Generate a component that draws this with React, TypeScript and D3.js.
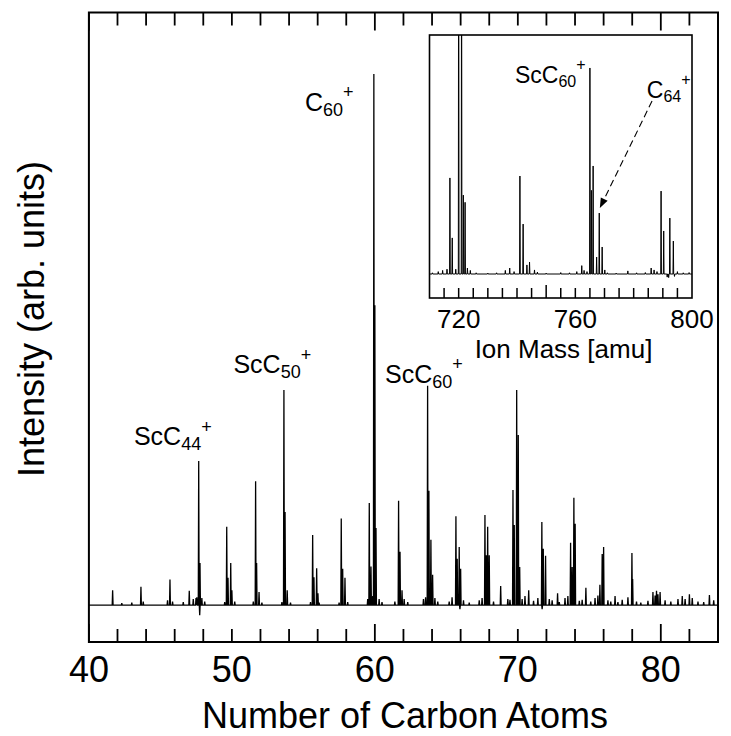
import React from "react";
import * as d3 from "d3";

// ---------- data ----------
// Main spectrum: peak positions in "number of carbon atoms" (mass/12) and intensities
const mainPeakN = [
  41.66, 43.64, 45.67, 47.02, 47.49, 47.68, 47.77, 49.64, 49.73, 49.92, 50.0,
  51.66, 51.73, 51.9, 53.64, 53.72, 53.87, 55.65, 55.74, 55.93, 56.02, 57.65,
  57.75, 57.91, 59.61, 59.73, 59.93, 60.0, 60.08, 61.66, 61.76, 61.9, 63.69,
  63.78, 63.92, 64.04, 65.67, 65.76, 65.9, 66.0, 67.7, 67.79, 67.89, 68.0, 68.8,
  69.66, 69.75, 69.92, 70.03, 70.13, 70.76, 71.68, 71.78, 71.94, 72.78, 73.69,
  73.8, 73.92, 74.01, 74.76, 75.74, 75.9, 76.0, 76.8, 77.7, 77.98, 78.03,
];
const mainPeakI = [
  2.5, 3.1, 4.3, 2.4, 1.2, 24.3, 7.1, 13.2, 4.6, 7.1, 2.5,
  20.9, 7.1, 2.2, 36.3, 15.7, 2.5, 11.8, 4.7, 6.2, 2.0, 14.6,
  6.1, 4.6, 17.2, 6.5, 89.6, 50.6, 13.0, 17.6, 9.0, 2.5, 37.0,
  19.3, 11.0, 5.1, 15.0, 7.8, 9.8, 6.1, 15.2, 8.4, 13.2, 8.4, 3.2,
  19.4, 13.5, 36.3, 28.7, 6.4, 2.5, 14.0, 9.5, 8.3, 2.0, 10.5,
  6.4, 18.1, 13.7, 2.9, 3.4, 8.6, 9.8, 1.5, 1.3, 8.8, 4.4,
];
// small baseline features of the main spectrum
const mainNoiseN = [
  42.3, 43.0, 43.8, 45.5, 45.85, 46.6, 47.3, 47.55, 47.75, 47.9, 48.1, 49.5, 50.2,
  51.5, 52.1, 53.5, 54.1, 55.5, 56.1, 57.5, 58.1, 59.5, 59.85, 60.3, 60.5, 61.4,
  62.05, 62.3, 63.4, 63.55, 64.2, 64.4, 65.2, 65.4, 65.95, 66.2, 66.6, 67.3, 67.5,
  68.3, 69.3, 69.45, 70.3, 70.5, 71.1, 71.4, 71.7, 72.2, 72.4, 72.9, 73.3, 73.5,
  74.3, 74.5, 75.1, 75.4, 75.6, 76.3, 76.5, 77.0, 77.3, 78.3, 78.6, 79.1, 79.45,
  79.6, 79.7, 79.8, 79.95, 80.3, 80.7, 81.2, 81.5, 81.7, 82.0, 82.2, 82.6, 83.0,
  83.4, 83.7,
];
const mainNoiseI = [
  0.3, 0.4, 0.6, 0.8, 0.6, 0.5, 1.0, 1.3, -1.7, 1.2, 0.6, 0.5, 0.6,
  0.6, 0.4, 0.5, 0.4, 0.5, 0.4, 0.4, 0.5, 1.0, 1.5, 1.0, 0.5, 0.6,
  1.0, 0.5, 1.0, 1.3, 1.2, 0.6, 0.6, 1.3, -0.7, 0.8, 0.4, 0.8, 1.2,
  0.6, 1.0, 0.9, 1.0, 1.5, 0.7, 1.2, -0.7, 1.0, 0.8, 0.5, 1.2, 1.5,
  0.7, 0.9, 0.6, 1.2, 1.6, 0.8, 0.6, 0.5, 0.9, 0.6, 0.4, 0.7, 2.2,
  1.6, 2.4, 1.8, 2.2, 0.8, 0.6, 1.0, 1.5, 1.0, 1.8, 1.2, 0.6, 0.5,
  1.7, 0.8,
];

// Inset spectrum: ion mass (amu) and intensity
const insetPeakM = [
  717.0, 717.8, 720.0, 721.0, 721.6, 722.2, 741.0, 742.1, 743.4, 744.3,
  765.0, 765.5, 766.1, 767.3, 768.2, 769.2, 789.4, 790.3, 792.4, 793.6,
];
const insetPeakI = [
  40.2, 15.1, 180, 160, 33, 30, 41, 20.9, 3.8, 5.0,
  86.2, 35, 45.2, 7.1, 25.5, 11.3, 34.7, 18, 23.4, 13.8,
];
const insetNoiseM = [
  711, 713, 714.5, 716, 719, 723, 724, 726, 730, 733, 736, 737.5, 739, 746, 747,
  750, 755, 758, 760.5, 762.2, 763, 764, 770.1, 771, 774, 778, 781, 784, 786,
  787, 788, 791.5, 792, 794, 795, 797, 799,
];
const insetNoiseI = [
  0.5, 1, 1.5, 2, 2, 2.5, 1.5, 0.5, 0.4, 0.5, 1.5, 2.5, 1, 1.7, 0.8,
  0.4, 0.6, 0.5, 1, 3.5, 1.5, 1, 1.7, 0.5, 0.4, 1.3, 0.5, 0.6, 2.5,
  1.7, 1.0, -1.3, -1.5, -1.0, 1, 0.5, 0.6,
];

// axes
const mainTickLabels = [40, 50, 60, 70, 80];
const mainMajorTicks = [40, 60, 80];
const mainMinorTicks = d3.range(42, 84, 2).filter((v) => !mainMajorTicks.includes(v));
const insetTickLabels = [720, 760, 800];
const insetMajorTicks = [750];
const insetMinorTicks = d3.range(715, 800, 5).filter((v) => !insetMajorTicks.includes(v));

// annotations (data coordinates)
const mainLabels = [
  { main: "ScC", sub: "44", n: 43.15, v: 27.0 },
  { main: "ScC", sub: "50", n: 50.11, v: 39.1 },
  { main: "C", sub: "60", n: 55.11, v: 83.4 },
  { main: "ScC", sub: "60", n: 60.71, v: 37.5 },
];
const insetLabels = [
  { main: "ScC", sub: "60", m: 739.3, v: 79.8 },
  { main: "C", sub: "64", m: 784.5, v: 73.6 },
];
const insetArrow = { fromM: 786.3, fromV: 72.4, toM: 768.4, toV: 27.6 };

// ---------- layout ----------
const W = 731;
const H = 736;
const FONT = "'Liberation Sans', Arial, Helvetica, sans-serif";
const P = { left: 88.9, right: 718, top: 12.5, bottom: 642 };
const I = { left: 429.5, right: 692, top: 35, bottom: 298 };

const xMain = d3.scaleLinear().domain([40, 84]).range([P.left, P.right]);
const yMain = d3.scaleLinear().domain([-6.24, 100]).range([P.bottom, P.top]);
const xIn = d3.scaleLinear().domain([710, 800]).range([I.left, I.right]);
const yIn = d3.scaleLinear().domain([-10.04, 100]).range([I.bottom, I.top]);

function buildSpectrum(
  pos: number[][],
  halfWidth: number,
  lo: number,
  hi: number
): [number, number][] {
  const all: [number, number][] = [];
  pos.forEach(([p, v]) => all.push([p, v]));
  all.sort((a, b) => a[0] - b[0]);
  const pts: [number, number][] = [[lo, 0]];
  all.forEach(([p, v]) => {
    pts.push([p - halfWidth, 0], [p, v], [p + halfWidth, 0]);
  });
  pts.push([hi, 0]);
  return pts;
}

const mainPts = buildSpectrum(
  [
    ...mainPeakN.map((n, i) => [n, mainPeakI[i]]),
    ...mainNoiseN.map((n, i) => [n, mainNoiseI[i]]),
  ],
  0.03,
  40,
  84
);
const insetPts = buildSpectrum(
  [
    ...insetPeakM.map((m, i) => [m, insetPeakI[i]]),
    ...insetNoiseM.map((m, i) => [m, insetNoiseI[i]]),
  ],
  0.12,
  710,
  800
);

const mainLine = d3
  .line<[number, number]>()
  .x((d) => xMain(d[0]))
  .y((d) => yMain(d[1]));
const insetLine = d3
  .line<[number, number]>()
  .x((d) => xIn(d[0]))
  .y((d) => yIn(d[1]));

function Formula(props: {
  x: number;
  y: number;
  main: string;
  sub: string;
  fs: number;
  sfs: number;
  subDy: number;
  supDy: number;
}) {
  const { x, y, main, sub, fs, sfs, subDy, supDy } = props;
  return (
    <text x={x} y={y} fontSize={fs} fontFamily={FONT} fill="#000">
      {main}
      <tspan fontSize={sfs} dy={subDy}>
        {sub}
      </tspan>
      <tspan fontSize={sfs} dy={supDy}>
        +
      </tspan>
    </text>
  );
}

export default function App() {
  // arrow geometry
  const ax0 = xIn(insetArrow.fromM);
  const ay0 = yIn(insetArrow.fromV);
  const ax1 = xIn(insetArrow.toM);
  const ay1 = yIn(insetArrow.toV);
  const len = Math.hypot(ax1 - ax0, ay1 - ay0);
  const ux = (ax1 - ax0) / len;
  const uy = (ay1 - ay0) / len;
  const headL = 10;
  const headW = 3.8;
  const bx = ax1 - ux * headL;
  const by = ay1 - uy * headL;
  const head = `${ax1},${ay1} ${bx - uy * headW},${by + ux * headW} ${bx + uy * headW},${by - ux * headW}`;

  return (
    <svg
      width={W}
      height={H}
      viewBox={`0 0 ${W} ${H}`}
      style={{ position: "absolute", left: 0, top: 0, background: "#fff" }}
    >
      <defs>
        <clipPath id="mainClip">
          <rect x={P.left} y={P.top} width={P.right - P.left} height={P.bottom - P.top} />
        </clipPath>
        <clipPath id="insetClip">
          <rect x={I.left} y={I.top} width={I.right - I.left} height={I.bottom - I.top} />
        </clipPath>
      </defs>
      <rect x={0} y={0} width={W} height={H} fill="#fff" />

      {/* main spectrum */}
      <path
        d={mainLine(mainPts) || ""}
        fill="none"
        stroke="#000"
        strokeWidth={1.3}
        clipPath="url(#mainClip)"
      />

      {/* main ticks */}
      <g stroke="#000" strokeWidth={1.8}>
        {mainMinorTicks.map((t) => (
          <g key={"mt" + t}>
            <line x1={xMain(t)} x2={xMain(t)} y1={P.bottom} y2={P.bottom - 13} />
            <line x1={xMain(t)} x2={xMain(t)} y1={P.top} y2={P.top + 13} />
          </g>
        ))}
        {mainMajorTicks.map((t) => (
          <g key={"MT" + t}>
            <line x1={xMain(t)} x2={xMain(t)} y1={P.bottom} y2={P.bottom - 18} />
            <line x1={xMain(t)} x2={xMain(t)} y1={P.top} y2={P.top + 18} />
          </g>
        ))}
      </g>

      {/* main frame */}
      <rect
        x={P.left}
        y={P.top}
        width={P.right - P.left}
        height={P.bottom - P.top}
        fill="none"
        stroke="#000"
        strokeWidth={2}
      />

      {/* main tick labels */}
      {mainTickLabels.map((t) => (
        <text
          key={"ml" + t}
          x={xMain(t)}
          y={682}
          fontSize={36}
          fontFamily={FONT}
          textAnchor="middle"
          fill="#000"
        >
          {t}
        </text>
      ))}
      <text x={405} y={728} fontSize={36} fontFamily={FONT} textAnchor="middle" fill="#000">
        Number of Carbon Atoms
      </text>
      <text
        transform="translate(43.5,319) rotate(-90)"
        fontSize={36}
        fontFamily={FONT}
        textAnchor="middle"
        fill="#000"
      >
        Intensity (arb. units)
      </text>

      {/* main peak labels */}
      {mainLabels.map((l, i) => (
        <Formula
          key={"lab" + i}
          x={xMain(l.n)}
          y={yMain(l.v)}
          main={l.main}
          sub={l.sub}
          fs={25}
          sfs={18}
          subDy={5}
          supDy={-17.5}
        />
      ))}

      {/* inset */}
      <rect
        x={I.left}
        y={I.top}
        width={I.right - I.left}
        height={I.bottom - I.top}
        fill="#fff"
        stroke="none"
      />
      <path
        d={insetLine(insetPts) || ""}
        fill="none"
        stroke="#000"
        strokeWidth={1}
        clipPath="url(#insetClip)"
      />
      <g stroke="#000" strokeWidth={1.5}>
        {insetMinorTicks.map((t) => (
          <line key={"it" + t} x1={xIn(t)} x2={xIn(t)} y1={I.bottom} y2={I.bottom - 10} />
        ))}
        {insetMajorTicks.map((t) => (
          <line key={"IT" + t} x1={xIn(t)} x2={xIn(t)} y1={I.bottom} y2={I.bottom - 13} />
        ))}
      </g>
      <rect
        x={I.left}
        y={I.top}
        width={I.right - I.left}
        height={I.bottom - I.top}
        fill="none"
        stroke="#000"
        strokeWidth={1.6}
      />
      {insetTickLabels.map((t) => (
        <text
          key={"il" + t}
          x={xIn(t)}
          y={328}
          fontSize={26}
          fontFamily={FONT}
          textAnchor="middle"
          fill="#000"
        >
          {t}
        </text>
      ))}
      <text x={563.5} y={358} fontSize={26} fontFamily={FONT} textAnchor="middle" fill="#000">
        Ion Mass [amu]
      </text>
      {insetLabels.map((l, i) => (
        <Formula
          key={"ilab" + i}
          x={xIn(l.m)}
          y={yIn(l.v)}
          main={l.main}
          sub={l.sub}
          fs={23}
          sfs={16}
          subDy={4}
          supDy={-17}
        />
      ))}
      <line
        x1={ax0}
        y1={ay0}
        x2={bx}
        y2={by}
        stroke="#000"
        strokeWidth={1.1}
        strokeDasharray="7,4"
      />
      <polygon points={head} fill="#000" />
    </svg>
  );
}
